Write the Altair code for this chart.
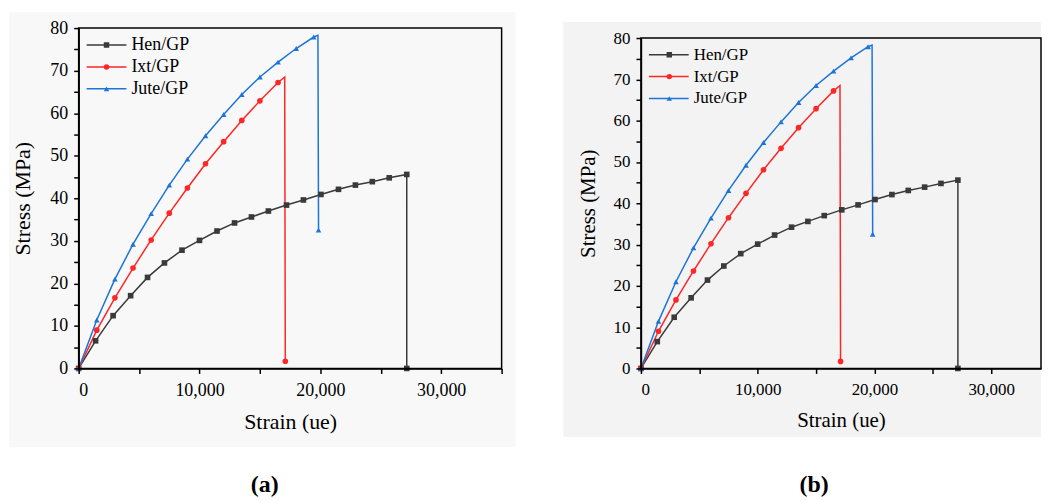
import altair as alt
import pandas as pd

# ---- data ----
series_names = ["Hen/GP", "Ixt/GP", "Jute/GP"]
series_colors = ["#3a3a3a", "#ff2626", "#1c74d9"]
series_shapes = ["square", "circle", "triangle-up"]

hen_strain = [0, 1400, 2850, 4300, 5700, 7100, 8550, 10000, 11450, 12900, 14300,
              15700, 17200, 18600, 20050, 21500, 22900, 24300, 25700, 27150, 27150]
hen_stress = [0, 6.5, 12.4, 17.1, 21.4, 24.8, 27.8, 30.1, 32.3, 34.2, 35.6,
              37.0, 38.4, 39.6, 40.9, 42.1, 43.1, 43.9, 44.8, 45.6, 0]
hen_marker = [True] * 21

ixt_strain = [0, 1500, 3000, 4500, 6000, 7500, 9000, 10500, 12000, 13500, 15000,
              16500, 17050, 17100]
ixt_stress = [0, 9.0, 16.6, 23.6, 30.2, 36.5, 42.4, 48.1, 53.3, 58.3, 62.9,
              67.2, 68.5, 1.7]
ixt_marker = [True] * 12 + [False, True]

jute_strain = [0, 1500, 3000, 4500, 6000, 7500, 9000, 10500, 12000, 13500, 15000,
               16500, 18000, 19450, 19800, 19850]
jute_stress = [0, 11.4, 21.0, 29.2, 36.4, 43.1, 49.2, 54.7, 59.7, 64.4, 68.5,
               72.0, 75.2, 77.9, 78.3, 32.5]
jute_marker = [True] * 14 + [False, True]

x_ticks = [0, 5000, 10000, 15000, 20000, 25000, 30000, 35000]
y_ticks = [0, 5, 10, 15, 20, 25, 30, 35, 40, 45, 50, 55, 60, 65, 70, 75, 80]

rows = []
for name, xs, ys, ms in [("Hen/GP", hen_strain, hen_stress, hen_marker),
                         ("Ixt/GP", ixt_strain, ixt_stress, ixt_marker),
                         ("Jute/GP", jute_strain, jute_stress, jute_marker)]:
    for i, (x, y, m) in enumerate(zip(xs, ys, ms)):
        rows.append({"series": name, "pt_series": "pt " + name,
                     "strain": x, "stress": y, "idx": i, "marker": m})
df = pd.DataFrame(rows)
pt_names = ["pt " + s for s in series_names]

SERIF = "Liberation Serif"
AX = dict(grid=False, domainColor="black", domainWidth=1.5, tickColor="black", tickWidth=1.5,
          tickSize=5, labelColor="black", titleColor="black", labelFont=SERIF, titleFont=SERIF,
          titleFontWeight="normal", zindex=2)


def panel(width, height, top_gap, xmax, bg_color, bg_box, caption, cap_xy, fs, leg_y):
    xt = [v for v in x_ticks if v <= xmax]
    xscale = alt.Scale(domain=[0, xmax], nice=False, zero=True)
    yscale = alt.Scale(domain=[0, 80], nice=False, range=[height, top_gap])
    x_axis = alt.Axis(values=xt, labelExpr="datum.value % 10000 == 0 ? format(datum.value, ',') : ''",
                      title="Strain (ue)", labelFontSize=fs["tick"], titleFontSize=fs["title"],
                      labelPadding=8, titlePadding=12, orient="bottom", **AX)
    y_axis = alt.Axis(values=y_ticks, labelExpr="datum.value % 10 == 0 ? datum.value : ''",
                      title="Stress (MPa)", labelFontSize=fs["tick"], titleFontSize=fs["title"],
                      labelPadding=6, titlePadding=15, orient="left", **AX)
    x_enc = alt.X("strain:Q", scale=xscale, axis=x_axis)
    y_enc = alt.Y("stress:Q", scale=yscale, axis=y_axis)
    one = alt.Data(values=[{"k": 1}])
    bx1, bx2, by1, by2 = bg_box
    bg = alt.Chart(one).mark_rect(color=bg_color).encode(
        x=alt.value(bx1), x2=alt.value(bx2), y=alt.value(by1), y2=alt.value(by2))

    line_legend = alt.Legend(orient="none", legendX=7, legendY=leg_y, title=None,
                             symbolType="stroke", symbolSize=1600, symbolStrokeWidth=1.5,
                             labelFont=SERIF, labelFontSize=fs["legend"], labelColor="black",
                             labelOffset=4, clipHeight=fs["row"], rowPadding=0, padding=0,
                             zindex=3)
    lines = alt.Chart(df).mark_line(strokeWidth=1.5).encode(
        x=x_enc, y=y_enc,
        stroke=alt.Stroke("series:N", scale=alt.Scale(domain=series_names, range=series_colors),
                          legend=line_legend),
        order="idx:Q",
    )
    pt_legend = alt.Legend(orient="none", legendX=fs["ptx"], legendY=leg_y, title=None,
                           symbolSize=30, symbolStrokeWidth=0, labelExpr="''",
                           labelFontSize=fs["legend"], clipHeight=fs["row"], rowPadding=0, padding=0,
                           zindex=4)
    points = alt.Chart(df).transform_filter("datum.marker").mark_point(
        filled=True, size=32, opacity=1, strokeWidth=0).encode(
        x=x_enc, y=y_enc,
        fill=alt.Fill("pt_series:N", scale=alt.Scale(domain=pt_names, range=series_colors),
                      legend=pt_legend),
        shape=alt.Shape("pt_series:N", scale=alt.Scale(domain=pt_names, range=series_shapes),
                        legend=pt_legend),
    )
    frame = alt.Chart(one).mark_rect(filled=False, color="black", strokeWidth=1.5).encode(
        x=alt.datum(0, scale=xscale, axis=x_axis), x2=alt.datum(xmax),
        y=alt.datum(0, scale=yscale, axis=y_axis), y2=alt.datum(80),
    )
    cap = alt.Chart(one).mark_text(text=caption, font=SERIF, fontSize=24, fontWeight="bold",
                                   color="black", align="center", baseline="middle").encode(
        x=alt.value(cap_xy[0]), y=alt.value(cap_xy[1]))
    return alt.layer(bg, lines, points, frame, cap).properties(width=width, height=height)


panel_a = panel(425, 342, 0, 35000, "#f8f8f8", (-70, 439, -16, 421), "(a)", (187, 459),
                {"tick": 18, "title": 22, "legend": 18, "row": 22, "ptx": 19}, 6)
panel_b = panel(402, 342, 10, 34270, "#f3f3f3", (-78, 402, -6, 411), "(b)", (174, 459),
                {"tick": 17, "title": 21, "legend": 17, "row": 21.5, "ptx": 20}, 16)

chart = alt.concat(panel_a, panel_b, columns=2, spacing=46, bounds="full").resolve_scale(
    x="independent", y="independent", stroke="independent", fill="independent", shape="independent"
).resolve_legend(
    stroke="independent", fill="independent", shape="independent"
).properties(
    padding={"left": 0, "top": 2, "right": 0, "bottom": 0}, background="white"
).configure_view(
    stroke="transparent"
).configure_axis(
    labelFont=SERIF, titleFont=SERIF, titleFontWeight="normal", labelColor="black",
    titleColor="black"
).configure_legend(
    labelFont=SERIF
)

chart.save("out.html", embed_options={"renderer": "svg", "actions": False})
